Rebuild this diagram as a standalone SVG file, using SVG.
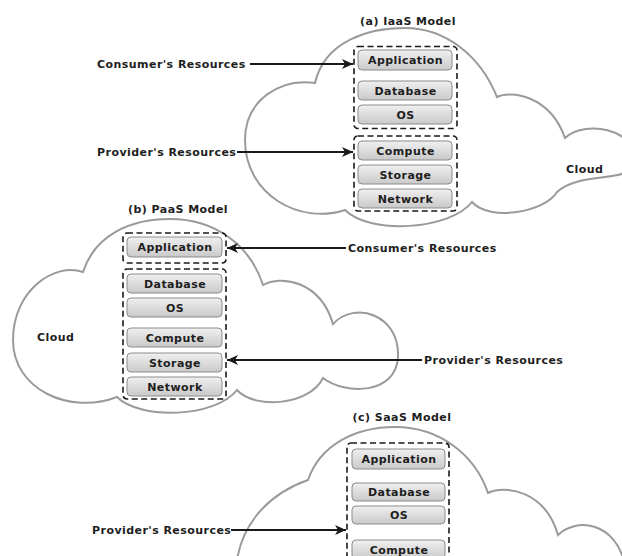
<svg xmlns="http://www.w3.org/2000/svg" width="622" height="556" viewBox="0 0 622 556">
  <defs>
    <linearGradient id="layerFill" x1="0" y1="0" x2="0" y2="1">
      <stop offset="0" stop-color="#f0f0f0"/>
      <stop offset="1" stop-color="#c9c9c9"/>
    </linearGradient>
    <marker id="arrowHead" markerUnits="userSpaceOnUse" markerWidth="12" markerHeight="10" refX="11" refY="5" orient="auto">
      <path d="M0,0 L11,5 L0,10 L3,5 Z" fill="#1a1a1a"/>
    </marker>
    <style>
      .cloud { fill: none; stroke: #9a9a9a; stroke-width: 2; }
      .group { fill: none; stroke: #1a1a1a; stroke-width: 1.6; stroke-dasharray: 6 3.5; }
      .layer rect { fill: url(#layerFill); stroke: #8c8c8c; stroke-width: 1; }
      text { font-family: "DejaVu Sans", Verdana, sans-serif; font-weight: bold; fill: #1e1e1e; font-size: 11px; letter-spacing: 0.45px; }
      .layer text { text-anchor: middle; }
      .title { text-anchor: middle; }
      .conn { stroke: #1a1a1a; stroke-width: 2; fill: none; marker-end: url(#arrowHead); }
    </style>
  </defs>
  <rect width="622" height="556" fill="#ffffff"/>

  <!-- (a) IaaS -->
  <g id="iaas">
    <path class="cloud" d="M345,210 C300,225 245,195 245,140 C245,100 280,78 315,83 C325,40 370,28 405,28 C445,28 480,55 497,97 C510,90 550,95 565,138 C585,120 635,128 635,160 C635,185 580,170 557,192 C545,212 490,222 472,202 C450,230 370,235 345,210 Z"/>
    <text class="title" x="408" y="25">(a) IaaS Model</text>
    <text x="566" y="173">Cloud</text>
    <rect class="group" x="354" y="46.5" width="103" height="82" rx="4"/>
    <rect class="group" x="354" y="136" width="103" height="75" rx="4"/>
    <g id="iaas-application" class="layer"><rect x="358" y="50" width="94" height="20" rx="4"/><text x="405.5" y="64">Application</text></g>
    <g id="iaas-database" class="layer"><rect x="358" y="81" width="94" height="19" rx="4"/><text x="405.5" y="95">Database</text></g>
    <g id="iaas-os" class="layer"><rect x="358" y="105" width="94" height="19" rx="4"/><text x="405.5" y="119">OS</text></g>
    <g id="iaas-compute" class="layer"><rect x="358" y="141" width="94" height="19" rx="4"/><text x="405.5" y="155">Compute</text></g>
    <g id="iaas-storage" class="layer"><rect x="358" y="165" width="94" height="19" rx="4"/><text x="405.5" y="179">Storage</text></g>
    <g id="iaas-network" class="layer"><rect x="358" y="189" width="94" height="19" rx="4"/><text x="405.5" y="203">Network</text></g>
    <text x="97" y="68">Consumer's Resources</text>
    <text x="97" y="156">Provider's Resources</text>
  </g>

  <!-- (b) PaaS -->
  <g id="paas">
    <path class="cloud" d="M117,397 C70,415 13,390 13,340 C13,290 55,262 83,272 C95,235 130,219 170,219 C215,219 250,245 263,285 C280,275 320,280 333,324 C355,300 400,315 398,357 C396,395 345,395 323,378 C310,405 255,410 237,390 C215,418 140,420 117,397 Z"/>
    <text class="title" x="178" y="213">(b) PaaS Model</text>
    <text x="37" y="341">Cloud</text>
    <rect class="group" x="123" y="233" width="103" height="30" rx="4"/>
    <rect class="group" x="123" y="269" width="103" height="130" rx="4"/>
    <g id="paas-application" class="layer"><rect x="127" y="237" width="95" height="20" rx="4"/><text x="175" y="251">Application</text></g>
    <g id="paas-database" class="layer"><rect x="127" y="274" width="95" height="19" rx="4"/><text x="175" y="288">Database</text></g>
    <g id="paas-os" class="layer"><rect x="127" y="298" width="95" height="19" rx="4"/><text x="175" y="312">OS</text></g>
    <g id="paas-compute" class="layer"><rect x="127" y="328" width="95" height="19" rx="4"/><text x="175" y="342">Compute</text></g>
    <g id="paas-storage" class="layer"><rect x="127" y="353" width="95" height="19" rx="4"/><text x="175" y="367">Storage</text></g>
    <g id="paas-network" class="layer"><rect x="127" y="377" width="95" height="19" rx="4"/><text x="175" y="391">Network</text></g>
    <text x="348" y="252">Consumer's Resources</text>
    <text x="424" y="364">Provider's Resources</text>
  </g>

  <!-- (c) SaaS -->
  <g id="saas">
    <path class="cloud" d="M236,575 C236,530 265,495 308,480 C320,445 355,427 395,427 C440,427 475,455 488,493 C505,485 545,490 558,535 C575,518 615,520 625,565"/>
    <text class="title" x="402" y="421">(c) SaaS Model</text>
    <rect class="group" x="347" y="443" width="102" height="160" rx="4"/>
    <g id="saas-application" class="layer"><rect x="352" y="449" width="93" height="20" rx="4"/><text x="399" y="463">Application</text></g>
    <g id="saas-database" class="layer"><rect x="352" y="483" width="93" height="18" rx="4"/><text x="399" y="496">Database</text></g>
    <g id="saas-os" class="layer"><rect x="352" y="506" width="93" height="18" rx="4"/><text x="399" y="519">OS</text></g>
    <g id="saas-compute" class="layer"><rect x="352" y="540" width="93" height="19" rx="4"/><text x="399" y="554">Compute</text></g>
    <text x="92" y="534">Provider's Resources</text>
  </g>

  <!-- connectors -->
  <g id="connectors">
    <line class="conn" x1="250" y1="64" x2="353" y2="64"/>
    <line class="conn" x1="237" y1="152" x2="353" y2="152"/>
    <line class="conn" x1="346" y1="248" x2="227" y2="248"/>
    <line class="conn" x1="422" y1="360" x2="227" y2="360"/>
    <line class="conn" x1="231" y1="530" x2="346" y2="530"/>
  </g>
</svg>
